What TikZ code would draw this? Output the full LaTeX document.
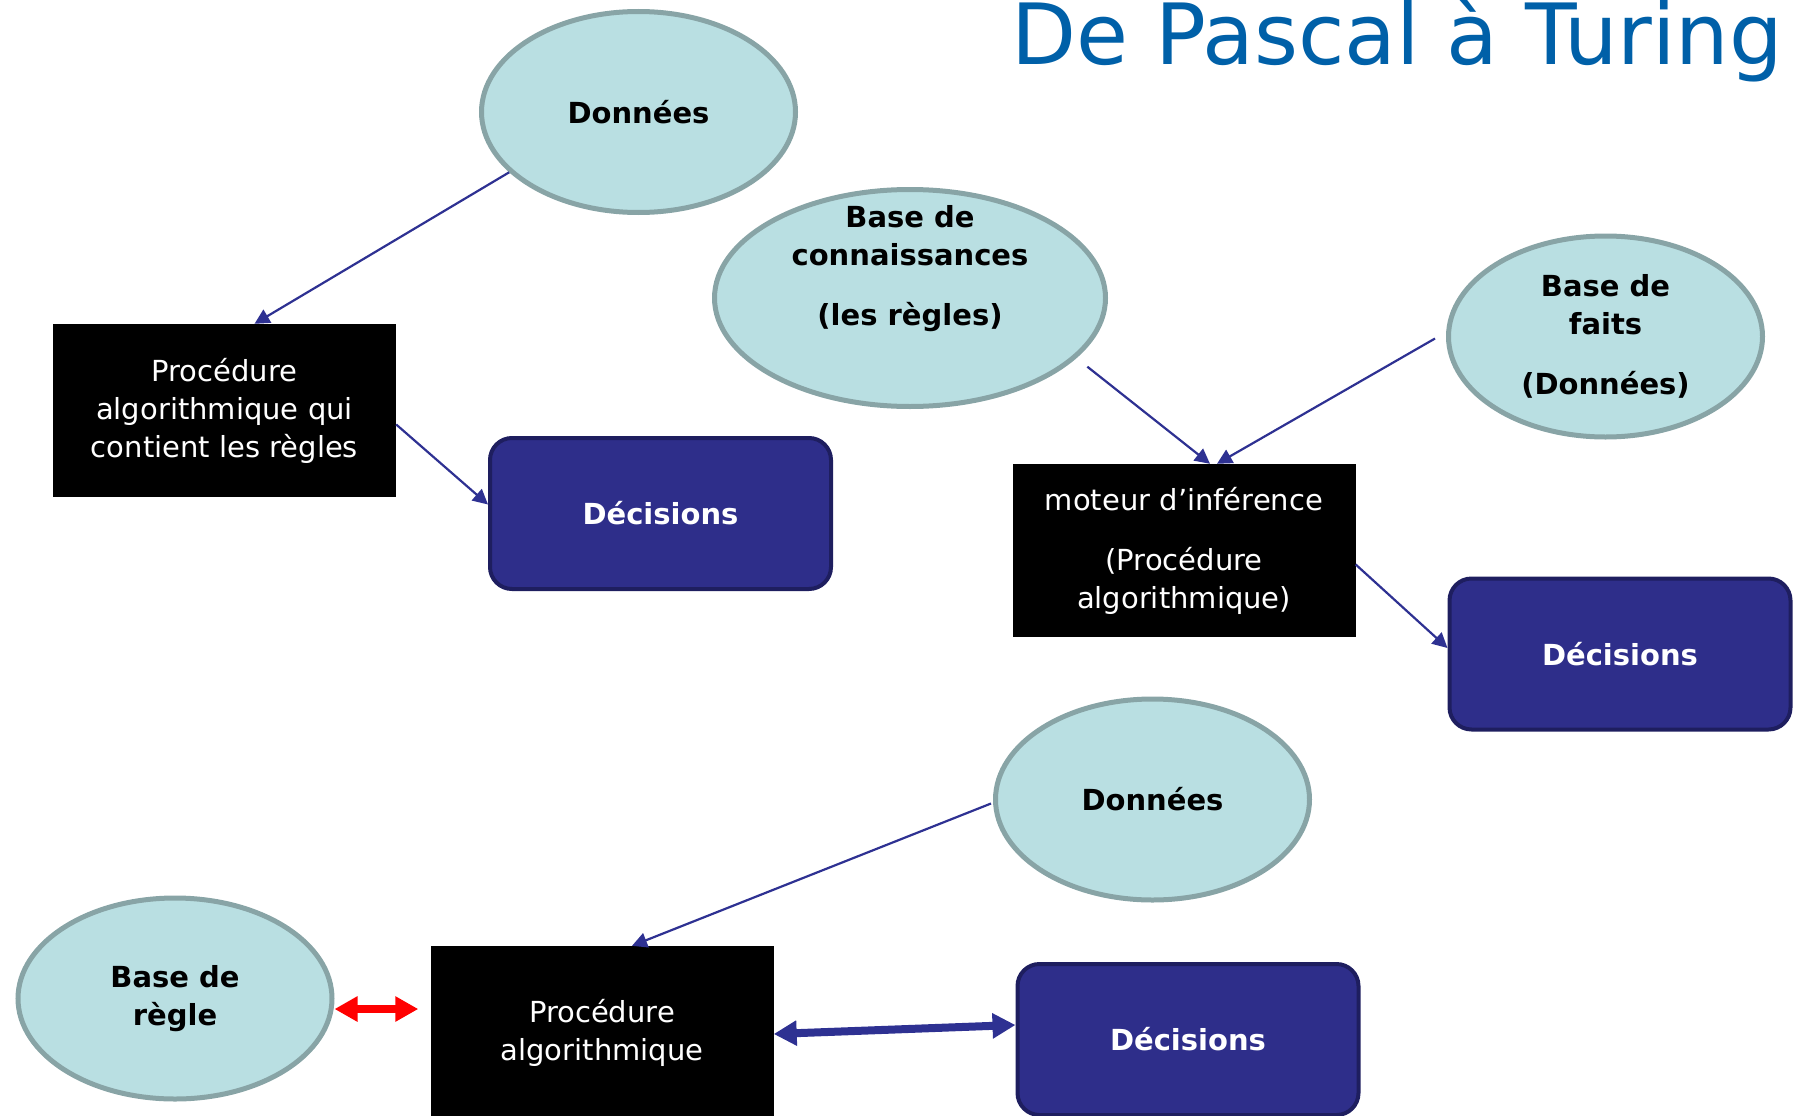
\documentclass[tikz,border=0pt]{standalone}
\usepackage{fontspec}
\setmainfont{DejaVu Sans}
\usetikzlibrary{shapes.geometric,arrows.meta,calc}
\definecolor{ellfill}{RGB}{185,223,226}
\definecolor{elldraw}{RGB}{136,164,166}
\definecolor{decfill}{RGB}{46,46,138}
\definecolor{decdraw}{RGB}{30,30,95}
\definecolor{arrowblue}{RGB}{46,49,146}
\definecolor{titleblue}{RGB}{0,96,168}
\begin{document}
\begin{tikzpicture}[x=1pt,y=1pt,
  ell/.style={ellipse, fill=ellfill, draw=elldraw, line width=5pt, minimum width=314pt, minimum height=201pt, inner sep=0pt, font=\fontsize{29}{38}\selectfont\bfseries, align=center},
  proc/.style={rectangle, fill=black, minimum width=343pt, minimum height=173pt, inner sep=0pt, text=white, font=\fontsize{29}{38}\selectfont, align=center},
  dec/.style={rectangle, rounded corners=22pt, fill=decfill, draw=decdraw, line width=4pt, minimum width=341pt, minimum height=151pt, inner sep=0pt, text=white, font=\fontsize{29}{38}\selectfont\bfseries},
  thinarrow/.style={draw=arrowblue, line width=2.2pt, -{Triangle[length=15pt,width=15pt]}},
  thickarrow/.style={line width=8pt, {Triangle[length=23pt,width=24pt]}-{Triangle[length=23pt,width=24pt]}},
  txt/.style={font=\fontsize{29}{38}\selectfont\bfseries, align=center, inner sep=0pt},
  ]
\useasboundingbox (0,0) rectangle (1796,-1116);
\clip (0,0) rectangle (1796,-1116);

% title
\node[anchor=base west, text=titleblue, font=\fontsize{84.5}{92}\selectfont, inner sep=0pt] (title) at (1011,-65) {De Pascal à Turing};

% top-left group
\node[ell] (d1) at (638.5,-112) {Données};
\node[proc] (p1) at (224.5,-410.5) {Procédure\\algorithmique qui\\contient les règles};
\node[dec] (c1) at (660.5,-513.5) {Décisions};

% top-right group
\node[ell, minimum width=391pt, minimum height=217pt] (kb) at (910,-298) {};
\node[txt] (kbt) at ($(kb.center)+(0,29)$) {Base de\\connaissances\\[22pt](les règles)};
\node[ell] (bf) at (1605.5,-336.5) {Base de\\faits\\[22pt](Données)};
\node[proc] (p2) at (1184,-550.5) {moteur d’inférence\\[22pt](Procédure\\algorithmique)};
\node[dec] (c2) at (1620,-654) {Décisions};

% bottom group
\node[ell] (d3) at (1152.5,-799.5) {Données};
\node[ell] (br) at (175,-998.5) {Base de\\règle};
\node[proc] (p3) at (602,-1032.5) {Procédure\\algorithmique};
\node[dec] (c3) at (1188,-1039.5) {Décisions};

% connectors
\draw[thinarrow] (d1.205) -- ($(p1.north)+(30,0)$);
\draw[thinarrow] ($(p1.east)+(0,-14)$) -- ($(c1.west)+(0,9)$);
\draw[thinarrow] ($(kb.-21.6)+(14,-6)$) -- ($(p2.north)+(26,0)$);
\draw[thinarrow] ($(bf.west)+(-11,-2)$) -- ($(p2.north)+(33,0)$);
\draw[thinarrow] ($(p2.east)+(0,-14)$) -- ($(c2.west)+(0,6)$);
\draw[thinarrow] ($(d3.west)+(-2,-4)$) -- ($(p3.north)+(30,0)$);
\draw[thickarrow, draw=red, fill=red] ($(br.east)+(0,-10.5)$) -- ($(p3.west)+(-12,23.5)$);
\draw[thickarrow, draw=arrowblue, fill=arrowblue] ($(p3.east)+(0,-1.5)$) -- ($(c3.west)+(0,14.5)$);
\end{tikzpicture}
\end{document}
